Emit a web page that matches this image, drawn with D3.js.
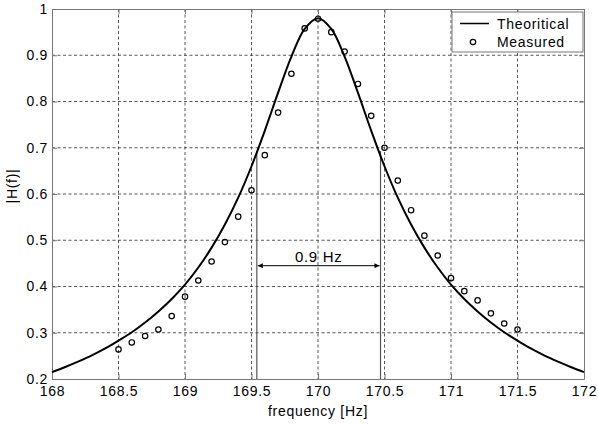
<!DOCTYPE html>
<meta charset="utf-8">
<title>|H(f)| resonance</title>
<style>
  body { margin: 0; background: #fff; }
  svg { display: block; }
  text {
    font-family: "Liberation Sans", Arial, sans-serif;
    font-size: 14px;
    letter-spacing: 0.7px;
    fill: #000;
  }
  .grid line {
    stroke: #444;
    stroke-width: 0.9px;
    stroke-dasharray: 3, 2.5;
  }
  .axis path { stroke: #777; stroke-width: 1px; }
  .axis line { stroke: #777; stroke-width: 1px; }
  .theory {
    fill: none;
    stroke: #000;
    stroke-width: 2px;
  }
  .measured {
    fill: none;
    stroke: #000;
    stroke-width: 1.2px;
  }
  .halfpower {
    stroke: #555;
    stroke-width: 1.2px;
  }
  .legend-box {
    fill: #fff;
    stroke: #777;
    stroke-width: 1px;
  }
</style>
<svg width="598" height="425"></svg>
<script src="https://d3js.org/d3.v7.min.js"></script>
<script>
  // theoretical curve, read at 0.1 Hz steps from 168 to 172
  var theoryFreq = d3.range(41).map(i => +(168 + i * 0.1).toFixed(1));
  var theoryVal = [
    0.215, 0.226, 0.238, 0.251, 0.266, 0.283, 0.301, 0.322, 0.346, 0.373,
    0.404, 0.441, 0.484, 0.534, 0.592, 0.660, 0.737, 0.819, 0.897, 0.957,
    0.980,
    0.957, 0.897, 0.819, 0.737, 0.660, 0.592, 0.534, 0.484, 0.441, 0.404,
    0.373, 0.346, 0.322, 0.301, 0.283, 0.266, 0.251, 0.238, 0.226, 0.215
  ];

  // measured points, 168.5 .. 171.5 Hz
  var measFreq = d3.range(31).map(i => +(168.5 + i * 0.1).toFixed(1));
  var measVal = [
    0.264, 0.279, 0.293, 0.307, 0.336, 0.378, 0.413, 0.454, 0.496, 0.551,
    0.608, 0.684, 0.776, 0.860, 0.958, 0.979, 0.950, 0.908, 0.838, 0.769,
    0.700, 0.629, 0.565, 0.510, 0.467, 0.418, 0.390, 0.370, 0.342, 0.320,
    0.307
  ];

  var halfPowerFreq = [169.54, 170.47];
  var halfPowerLevel = 0.693;
  var arrowLevel = 0.445;
  var bandLabel = "0.9 Hz";

  var xTicks = [168, 168.5, 169, 169.5, 170, 170.5, 171, 171.5, 172];
  var xTickLabels = ["168", "168.5", "169", "169.5", "170", "170.5", "171", "171.5", "172"];
  var yTicks = [0.2, 0.3, 0.4, 0.5, 0.6, 0.7, 0.8, 0.9, 1];
  var yTickLabels = ["0.2", "0.3", "0.4", "0.5", "0.6", "0.7", "0.8", "0.9", "1"];

  var svg = d3.select("svg"),
    margin = { top: 9, right: 14, bottom: 46, left: 52 },
    width = +svg.attr("width") - margin.left - margin.right,
    height = +svg.attr("height") - margin.top - margin.bottom;

  var x = d3.scaleLinear().domain([168, 172]).range([0, width]);
  var y = d3.scaleLinear().domain([0.2, 1]).range([height, 0]);

  var g = svg.append("g").attr("transform", `translate(${margin.left},${margin.top})`);

  var defs = svg.append("defs");
  defs.append("marker")
    .attr("id", "arrow")
    .attr("viewBox", "0 0 10 10")
    .attr("refX", 10).attr("refY", 5)
    .attr("markerWidth", 7).attr("markerHeight", 5)
    .attr("markerUnits", "userSpaceOnUse")
    .attr("orient", "auto-start-reverse")
    .append("path").attr("d", "M0,0L10,5L0,10z").attr("fill", "#000");

  // grid
  var grid = g.append("g").attr("class", "grid");
  grid.selectAll(".gx").data(xTicks.slice(1, -1)).enter().append("line")
    .attr("x1", d => x(d)).attr("x2", d => x(d))
    .attr("y1", 0).attr("y2", height);
  grid.selectAll(".gy").data(yTicks.slice(1, -1)).enter().append("line")
    .attr("y1", d => y(d)).attr("y2", d => y(d))
    .attr("x1", 0).attr("x2", width);

  // axes, MATLAB style inward ticks on all sides
  g.append("g").attr("class", "axis").attr("transform", `translate(0,${height})`)
    .call(d3.axisBottom(x).tickValues(xTicks).tickSizeInner(-5).tickSizeOuter(0).tickPadding(7)
      .tickFormat((d, i) => xTickLabels[i]));
  g.append("g").attr("class", "axis")
    .call(d3.axisLeft(y).tickValues(yTicks).tickSizeInner(-5).tickSizeOuter(0).tickPadding(4)
      .tickFormat((d, i) => yTickLabels[i]));
  g.append("g").attr("class", "axis")
    .call(d3.axisTop(x).tickValues(xTicks).tickSizeInner(-5).tickSizeOuter(0).tickFormat(""));
  g.append("g").attr("class", "axis").attr("transform", `translate(${width},0)`)
    .call(d3.axisRight(y).tickValues(yTicks).tickSizeInner(-5).tickSizeOuter(0).tickFormat(""));
  g.selectAll(".axis text")
    .style("font-family", "\"Liberation Sans\", Arial, sans-serif")
    .style("font-size", "14px")
    .attr("fill", "#000");

  // half power lines and bandwidth arrow
  g.selectAll(".halfpower").data(halfPowerFreq).enter().append("line")
    .attr("class", "halfpower")
    .attr("x1", d => x(d)).attr("x2", d => x(d))
    .attr("y1", y(0.2)).attr("y2", y(halfPowerLevel));

  g.append("line")
    .attr("x1", x(halfPowerFreq[0]) + 1).attr("x2", x(halfPowerFreq[1]) - 1)
    .attr("y1", y(arrowLevel)).attr("y2", y(arrowLevel))
    .attr("stroke", "#000").attr("stroke-width", 1)
    .attr("marker-start", "url(#arrow)")
    .attr("marker-end", "url(#arrow)");

  g.append("text")
    .attr("x", (x(halfPowerFreq[0]) + x(halfPowerFreq[1])) / 2)
    .attr("y", y(arrowLevel) - 4)
    .attr("text-anchor", "middle")
    .style("font-size", "15px")
    .text(bandLabel);

  // theoretical curve
  var line = d3.line()
    .x((d, i) => x(theoryFreq[i]))
    .y(d => y(d))
    .curve(d3.curveCatmullRom.alpha(0.5));
  g.append("path").attr("class", "theory").datum(theoryVal).attr("d", line);

  // measured
  g.selectAll(".measured").data(measVal).enter().append("circle")
    .attr("class", "measured")
    .attr("cx", (d, i) => x(measFreq[i]))
    .attr("cy", d => y(d))
    .attr("r", 2.7);

  // labels
  svg.append("text")
    .attr("x", margin.left + width / 2)
    .attr("y", 416)
    .attr("text-anchor", "middle")
    .text("frequency [Hz]");

  svg.append("text")
    .attr("transform", "translate(17,186) rotate(-90)")
    .attr("text-anchor", "middle")
    .text("|H(f)|");

  // legend
  var leg = g.append("g").attr("transform", `translate(${452 - margin.left},${12 - margin.top})`);
  leg.append("rect").attr("class", "legend-box")
    .attr("width", 131).attr("height", 40);
  leg.append("line")
    .attr("x1", 8).attr("x2", 37).attr("y1", 11.5).attr("y2", 11.5)
    .attr("stroke", "#000").attr("stroke-width", 1.5);
  leg.append("text").attr("x", 45).attr("y", 16.5).text("Theoritical");
  leg.append("circle").attr("class", "measured")
    .attr("cx", 21).attr("cy", 30).attr("r", 2.7);
  leg.append("text").attr("x", 45).attr("y", 34.5).text("Measured");
</script>
